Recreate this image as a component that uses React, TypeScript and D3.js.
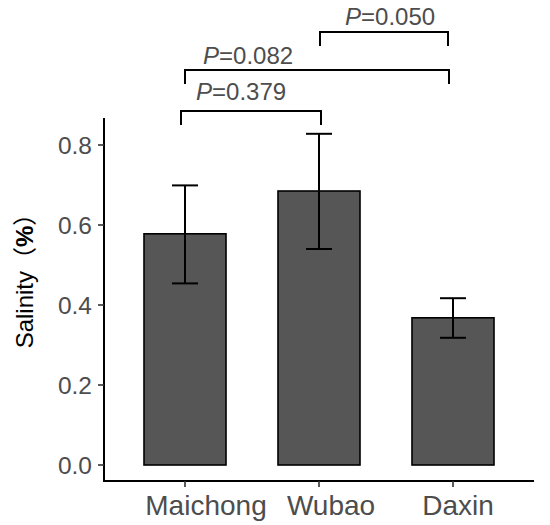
import * as d3 from "d3";

const categories = ["Maichong", "Wubao", "Daxin"];
const means = [0.578, 0.685, 0.368];
const errLow = [0.454, 0.54, 0.318];
const errHigh = [0.699, 0.828, 0.417];
const yTickValues = [0, 0.2, 0.4, 0.6, 0.8];

const compLeft = ["Maichong", "Maichong", "Wubao"];
const compRight = ["Wubao", "Daxin", "Daxin"];
const compP = ["0.379", "0.082", "0.050"];

// bracket layout (pixels), one per comparison
const bracketY = [111, 70, 32];
const bracketDx1 = [-4, 0, 1];
const bracketDx2 = [2, -4, -5];
const bracketTextDx = [15, 18, 25];
const bracketTextDy = [-11, -6, -7];
// x label horizontal nudges (pixels)
const labelDx = [21, 12, 5];

const FONT = "'Liberation Sans', Arial, 'Noto Sans CJK SC', sans-serif";

export default function App() {
  const width = 550;
  const height = 525;
  const axisLeft = 104;
  const axisRight = 534;
  const axisBottom = 481;
  const yMax = 0.8675;

  const x = d3
    .scaleBand()
    .domain(categories)
    .range([axisLeft, axisRight])
    .paddingInner(0.388)
    .paddingOuter(0.2985);

  const y = d3.scaleLinear().domain([0, yMax]).range([465, 118]);

  const cx = (c: string) => (x(c) ?? 0) + x.bandwidth() / 2;

  return (
    <svg
      width={width}
      height={height}
      viewBox={`0 0 ${width} ${height}`}
      style={{ position: "absolute", left: 0, top: 0, background: "#fff" }}
      fontFamily={FONT}
    >
      {/* bars */}
      {categories.map((c, i) => (
        <rect
          key={c}
          x={x(c)}
          y={y(means[i])}
          width={x.bandwidth()}
          height={y(0) - y(means[i])}
          fill="#565656"
          stroke="#000"
          strokeWidth={1.6}
        />
      ))}

      {/* error bars */}
      {categories.map((c, i) => (
        <g key={c} stroke="#000" strokeWidth={2}>
          <line x1={cx(c)} x2={cx(c)} y1={y(errHigh[i])} y2={y(errLow[i])} />
          <line x1={cx(c) - 13} x2={cx(c) + 13} y1={y(errHigh[i])} y2={y(errHigh[i])} />
          <line x1={cx(c) - 13} x2={cx(c) + 13} y1={y(errLow[i])} y2={y(errLow[i])} />
        </g>
      ))}

      {/* y axis */}
      <line x1={axisLeft} x2={axisLeft} y1={y(yMax)} y2={axisBottom} stroke="#000" strokeWidth={2} />
      {yTickValues.map((t) => (
        <g key={t}>
          <line x1={axisLeft - 6} x2={axisLeft} y1={y(t)} y2={y(t)} stroke="#333" strokeWidth={1.6} />
          <text
            x={axisLeft - 12}
            y={y(t)}
            textAnchor="end"
            dominantBaseline="central"
            fontSize={24.5}
            fill="#4d4d4d"
          >
            {d3.format(".1f")(t)}
          </text>
        </g>
      ))}

      {/* x axis */}
      <line x1={axisLeft - 1} x2={axisRight} y1={axisBottom} y2={axisBottom} stroke="#000" strokeWidth={2} />
      {categories.map((c, i) => (
        <g key={c}>
          <line x1={cx(c)} x2={cx(c)} y1={axisBottom} y2={axisBottom + 6} stroke="#333" strokeWidth={1.6} />
          <text x={cx(c) + labelDx[i]} y={515} textAnchor="middle" fontSize={28} fill="#4d4d4d">
            {c}
          </text>
        </g>
      ))}

      {/* y title */}
      <text
        transform={`translate(24, 275) rotate(-90)`}
        textAnchor="middle"
        dominantBaseline="central"
        fontSize={24}
        fill="#000"
      >
        Salinity<tspan>（</tspan>
        <tspan fontWeight="bold">%</tspan>
        <tspan>）</tspan>
      </text>

      {/* significance brackets */}
      {compP.map((p, i) => {
        const x1 = cx(compLeft[i]) + bracketDx1[i];
        const x2 = cx(compRight[i]) + bracketDx2[i];
        const by = bracketY[i];
        return (
          <g key={p}>
            <path
              d={`M${x1},${by + 14}V${by}H${x2}V${by + 14}`}
              fill="none"
              stroke="#000"
              strokeWidth={2}
            />
            <text x={x1 + bracketTextDx[i]} y={by + bracketTextDy[i]} fontSize={24} fill="#4d4d4d">
              <tspan fontStyle="italic">P</tspan>=
              {p}
            </text>
          </g>
        );
      })}
    </svg>
  );
}
